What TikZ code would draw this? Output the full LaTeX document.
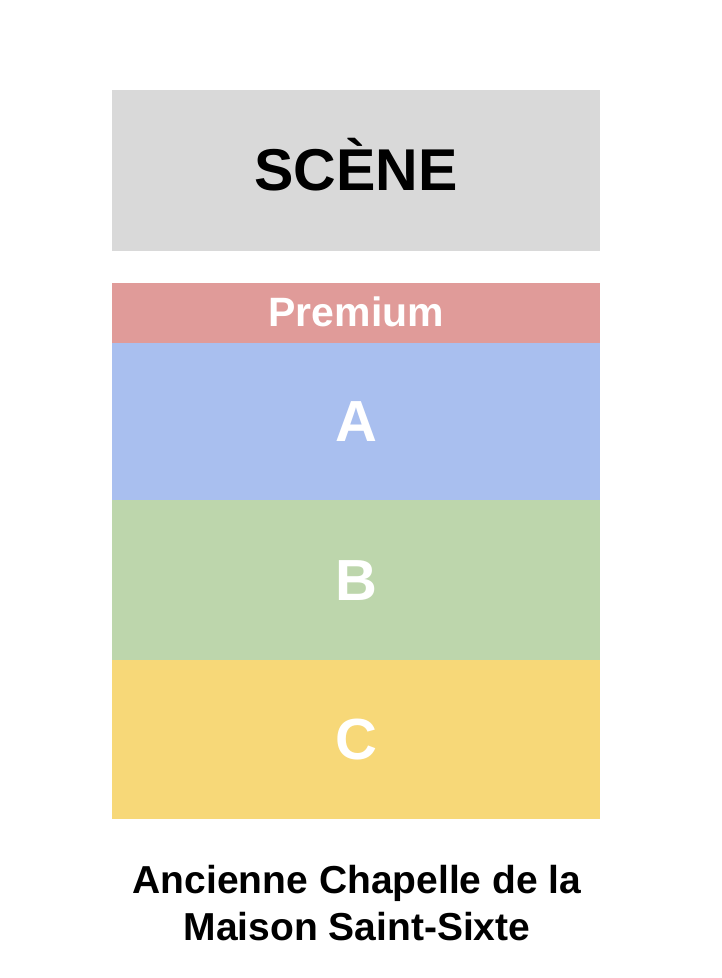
\documentclass[tikz,border=0pt]{standalone}
\usepackage{fontspec}
\setmainfont{Liberation Sans}
\definecolor{scenegray}{HTML}{D9D9D9}
\definecolor{premred}{HTML}{E09B99}
\definecolor{ablue}{HTML}{A9BFEF}
\definecolor{bgreen}{HTML}{BDD6AC}
\definecolor{cyellow}{HTML}{F7D878}
\begin{document}
\begin{tikzpicture}[x=1pt,y=-1pt,
  zone/.style={draw=none,inner sep=0pt,minimum width=488pt,anchor=north west},
  lbl/.style={font=\bfseries\fontsize{58}{60}\selectfont,text=white}]
\useasboundingbox[fill=white] (0,0) rectangle (722,978);
\node[zone,fill=scenegray,minimum height=161pt] (scene) at (112,90) {};
\node[font=\bfseries\fontsize{59}{60}\selectfont] (scenetxt) at ([yshift=6pt]scene.center) {SCÈNE};
\node[zone,fill=premred,minimum height=60pt] (prem) at (112,283) {};
\node[font=\bfseries\fontsize{41}{44}\selectfont,text=white] (premtxt) at ([yshift=1pt]prem.center) {Premium};
\node[zone,fill=ablue,minimum height=157pt] (a) at (112,343) {};
\node[lbl] (atxt) at (a.center) {A};
\node[zone,fill=bgreen,minimum height=160pt] (b) at (112,500) {};
\node[lbl] (btxt) at (b.center) {B};
\node[zone,fill=cyellow,minimum height=159pt] (c) at (112,660) {};
\node[lbl] (ctxt) at (c.center) {C};
\node[font=\bfseries\fontsize{39}{47}\selectfont,align=center] (cap) at (357,903) {Ancienne Chapelle de la\\Maison Saint-Sixte};
\end{tikzpicture}
\end{document}
